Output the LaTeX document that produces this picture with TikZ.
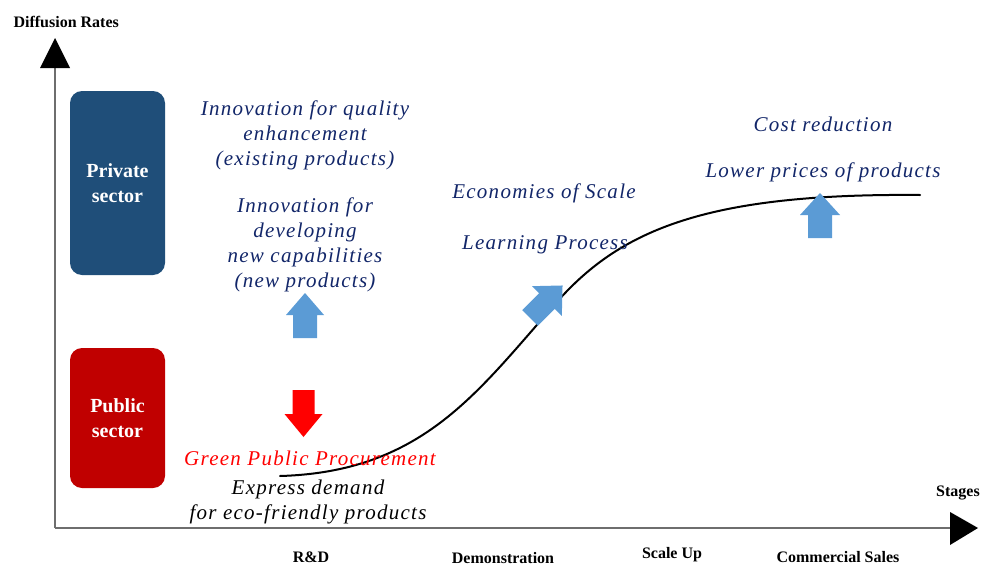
\documentclass[tikz,border=0pt]{standalone}
\usepackage{fontspec}
\setmainfont{Liberation Serif}
\definecolor{navytxt}{RGB}{18,38,105}
\definecolor{arrblue}{RGB}{91,155,213}
\definecolor{privbox}{RGB}{31,78,121}
\definecolor{pubbox}{RGB}{192,0,0}
\definecolor{axisgray}{RGB}{110,110,110}
\begin{document}
\begin{tikzpicture}[x=1pt,y=-1pt,
  sectorbox/.style={rounded corners=12pt,draw=none,minimum width=95pt,text=white,
     font=\fontsize{20}{25}\selectfont\bfseries,align=center},
  ittext/.style={text=navytxt,align=center,font=\fontsize{21}{25}\selectfont\itshape\addfontfeature{LetterSpace=6}},
  axlbl/.style={font=\fontsize{16}{18}\selectfont\bfseries,anchor=center},
  stagelbl/.style={axlbl}]
\useasboundingbox (0,0) rectangle (985,570);
% axes
\coordinate (o) at (55,528);
\coordinate (ytop) at (55,66);
\coordinate (xend) at (950,528);
\draw[axisgray,line width=1.3pt] (o) -- (ytop);
\draw[axisgray,line width=1.3pt] (o) -- (xend);
\fill[black] (55,38) -- (70,68) -- (40,68) -- cycle;
\fill[black] (978,528) -- (950,512) -- (950,545) -- cycle;
\node[axlbl,anchor=west] (ylab) at (10,22) {Diffusion Rates};
\node[axlbl] (xlab) at (958,493) {Stages};
% sector boxes
\node[sectorbox,fill=privbox,minimum height=184pt] (priv) at (117.5,183) {Private\\sector};
\node[sectorbox,fill=pubbox,minimum height=140pt] (pub) at (117.5,418) {Public\\sector};
% S-curve
\coordinate (cs) at (280,476);
\coordinate (cm) at (550,310);
\coordinate (ce) at (920,195);
\draw[black,line width=2pt,line cap=round] (cs) .. controls (420,472) and (475,395) .. (cm)
   .. controls (615,232) and (700,193) .. (ce);
% texts
\node[ittext] (t1) at (305,135) {Innovation for quality\\enhancement\\(existing products)};
\node[ittext] (t2) at (305,245) {Innovation for\\developing\\new capabilities\\(new products)};
\node[ittext,text=red] (gpp) at (310,458) {Green Public Procurement};
\node[ittext,text=black] (exp) at (308,502) {Express demand\\for eco-friendly products};
\node[ittext] (eos) at (544,193) {Economies of Scale};
\node[ittext] (lp) at (545,245) {Learning Process};
\node[ittext] (cr) at (823,124) {Cost reduction};
\node[ittext] (lpp) at (823,172) {Lower prices of products};
% block arrows
\begin{scope}[shift={(305,338)}]
\fill[arrblue] (-12,0) -- (12,0) -- (12,-23) -- (19,-23) -- (0,-45) -- (-19,-23) -- (-12,-23) -- cycle;
\end{scope}
\begin{scope}[shift={(820,238)}]
\fill[arrblue] (-12,0) -- (12,0) -- (12,-23) -- (20,-23) -- (0,-45) -- (-20,-23) -- (-12,-23) -- cycle;
\end{scope}
\begin{scope}[shift={(530,318)},rotate=-45]
\fill[arrblue] (-11,0) -- (11,0) -- (11,-24) -- (21,-24) -- (0,-46) -- (-21,-24) -- (-11,-24) -- cycle;
\end{scope}
\begin{scope}[shift={(303.5,390)}]
\fill[red] (-11,0) -- (11,0) -- (11,24) -- (19,24) -- (0,47) -- (-19,24) -- (-11,24) -- cycle;
\end{scope}
% stage labels
\node[stagelbl] (s1) at (311,557) {R\&D};
\node[stagelbl] (s2) at (503,558) {Demonstration};
\node[stagelbl] (s3) at (672,555) {Scale Up};
\node[stagelbl] (s4) at (838,557) {Commercial Sales};
\end{tikzpicture}
\end{document}
